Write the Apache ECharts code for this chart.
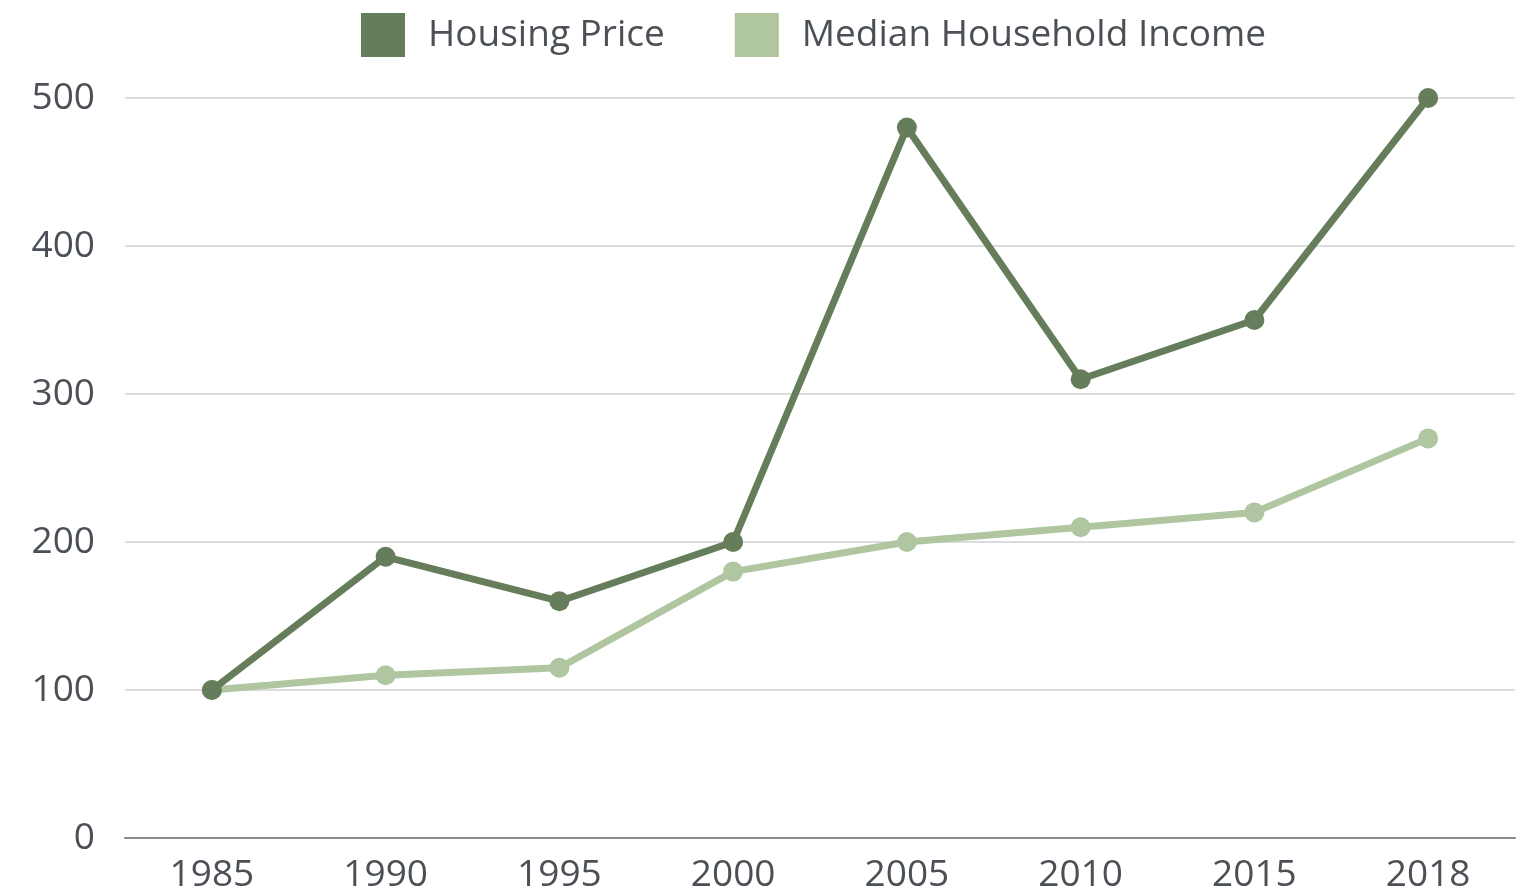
<html>
    <head>
        <meta charset="utf-8">
        <script src='https://cdn.jsdelivr.net/npm/echarts@6/dist/echarts.min.js'></script>
    </head>
    <body>
        <style>
            html, body, #main {
                width: 100%;
                height: 100%;
                margin: 0;
                background: #fff;
            }
        </style>
        <div id='main'></div>
        <script>
            var years = ['1985', '1990', '1995', '2000', '2005', '2010', '2015', '2018'];
            var housingPrice = [100, 190, 160, 200, 480, 310, 350, 500];
            var medianIncome = [100, 110, 115, 180, 200, 210, 220, 270];

            var chart = echarts.init(document.getElementById('main'));

            var textColor = '#4b5057';
            var font = '"Open Sans", sans-serif';

            var option = {
                textStyle: { fontFamily: font },
                legend: {
                    left: 356,
                    top: 8,
                    itemWidth: 44,
                    itemHeight: 44,
                    itemGap: 70,
                    icon: 'rect',
                    textStyle: {
                        fontSize: 37,
                        color: textColor,
                        fontFamily: font,
                        padding: [0, 0, 8, 18]
                    },
                    data: ['Housing Price', 'Median Household Income']
                },
                grid: {
                    left: 125,
                    right: 10,
                    top: 98,
                    bottom: 58
                },
                xAxis: {
                    type: 'category',
                    data: years,
                    axisLine: { lineStyle: { color: '#8a8a8a', width: 2 } },
                    axisTick: { show: false },
                    axisLabel: {
                        fontSize: 37,
                        color: textColor,
                        fontFamily: font,
                        margin: 19
                    }
                },
                yAxis: {
                    type: 'value',
                    min: 0,
                    max: 500,
                    interval: 100,
                    axisLine: { show: false },
                    axisTick: { show: false },
                    splitLine: { lineStyle: { color: '#dcdcdc', width: 2 } },
                    axisLabel: {
                        fontSize: 37,
                        color: textColor,
                        fontFamily: font,
                        margin: 30
                    }
                },
                series: [
                    {
                        name: 'Housing Price',
                        type: 'line',
                        data: housingPrice,
                        color: '#667d5b',
                        symbol: 'circle',
                        symbolSize: 20,
                        lineStyle: { width: 7 },
                        z: 3
                    },
                    {
                        name: 'Median Household Income',
                        type: 'line',
                        data: medianIncome,
                        color: '#afc6a1',
                        symbol: 'circle',
                        symbolSize: 20,
                        lineStyle: { width: 7 },
                        z: 2
                    }
                ]
            };

            chart.setOption(option);
            window.onresize = chart.resize;
        </script>
    </body>
</html>
